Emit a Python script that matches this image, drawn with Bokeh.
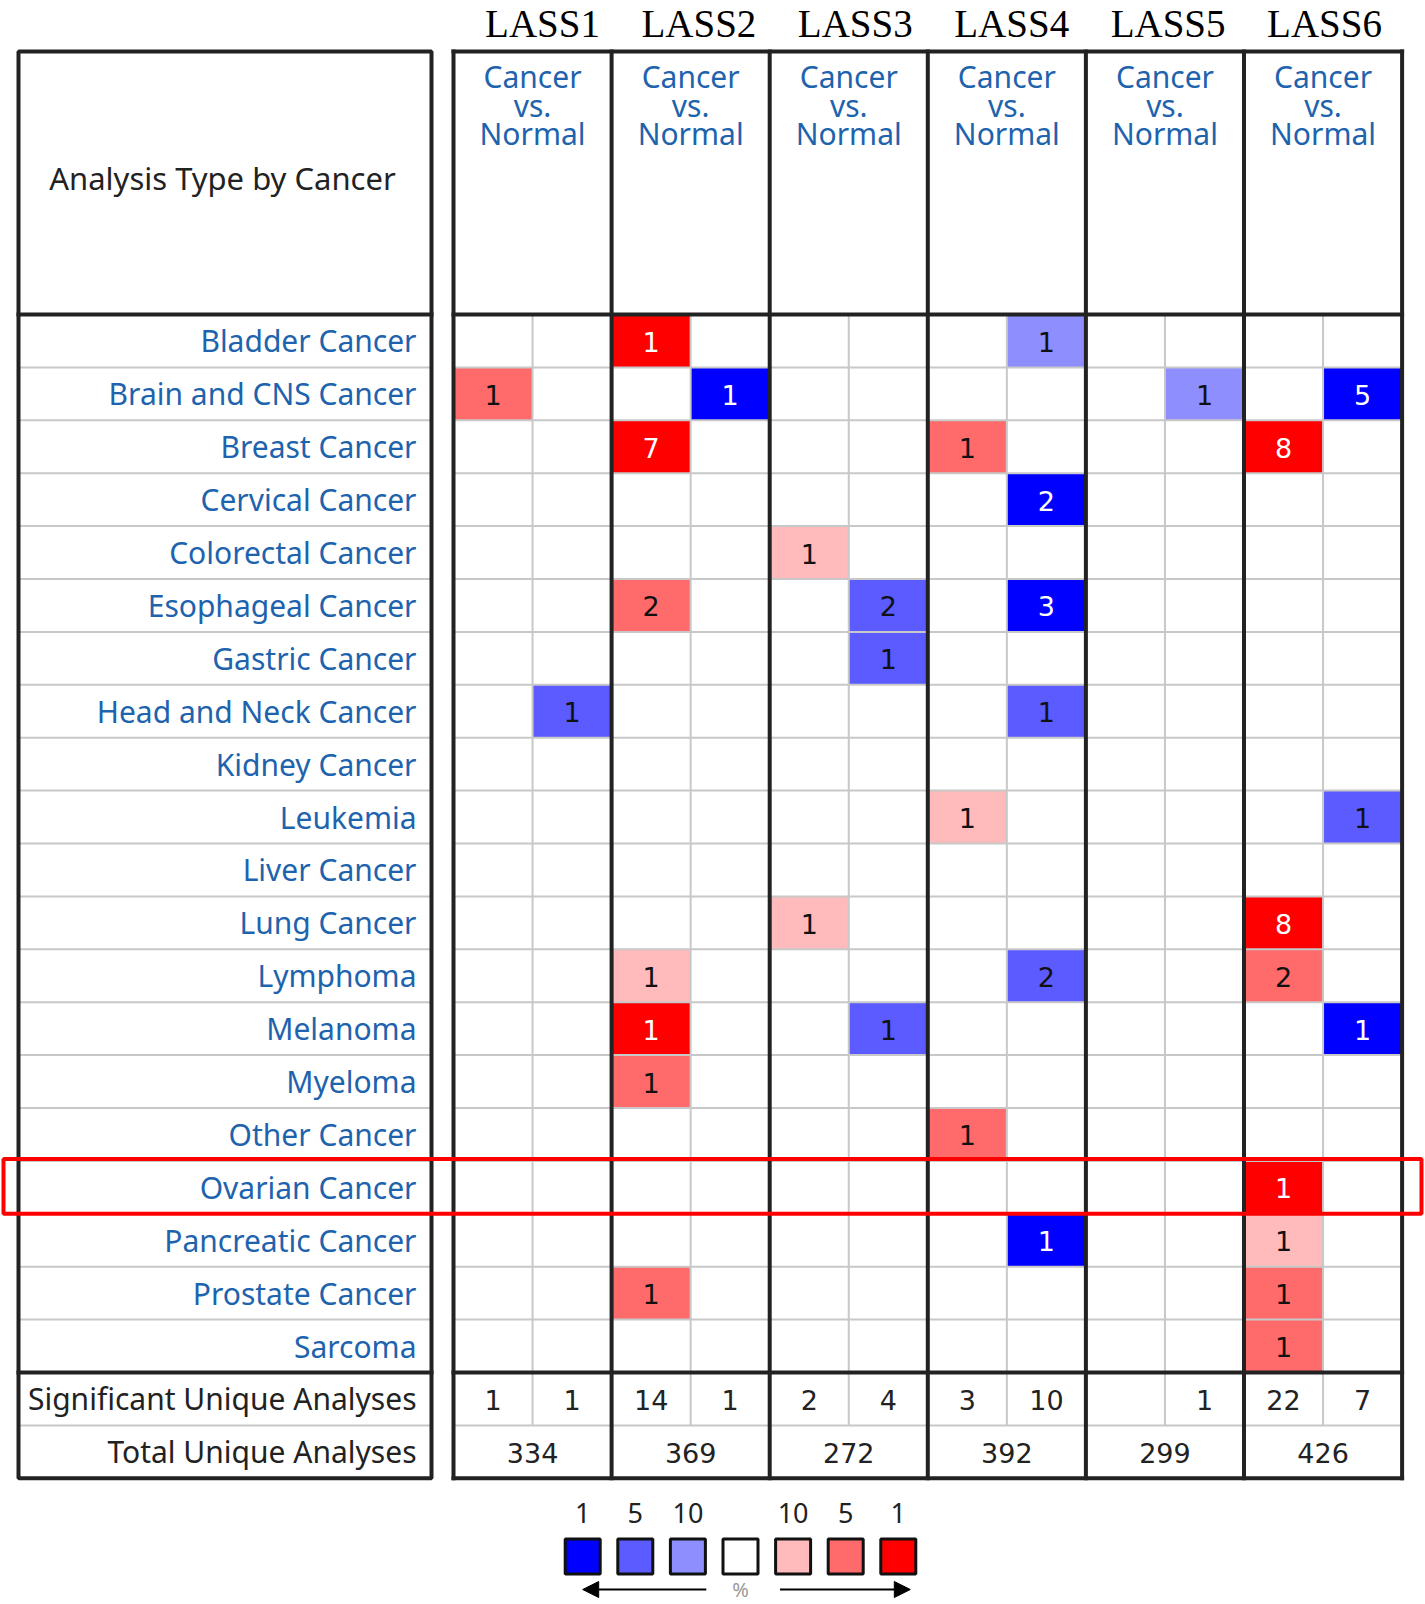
from bokeh.plotting import figure
from bokeh.models import Range1d, Arrow, NormalHead
from bokeh.core.properties import value
from bokeh.embed import file_html
from bokeh.resources import INLINE

# ---------------- data ----------------
genes = ["LASS1", "LASS2", "LASS3", "LASS4", "LASS5", "LASS6"]
cancers = ["Bladder Cancer", "Brain and CNS Cancer", "Breast Cancer", "Cervical Cancer",
           "Colorectal Cancer", "Esophageal Cancer", "Gastric Cancer", "Head and Neck Cancer",
           "Kidney Cancer", "Leukemia", "Liver Cancer", "Lung Cancer", "Lymphoma", "Melanoma",
           "Myeloma", "Other Cancer", "Ovarian Cancer", "Pancreatic Cancer", "Prostate Cancer",
           "Sarcoma"]
highlight = "Ovarian Cancer"
sub_header = ["Cancer", "vs.", "Normal"]
corner_label = "Analysis Type by Cancer"
summary_labels = ["Significant Unique Analyses", "Total Unique Analyses"]

# significant cells: cancer, gene, side (over/under), count, rank (1=top1%, 2=top5%, 3=top10%)
cell_cancer = ["Bladder Cancer", "Bladder Cancer",
               "Brain and CNS Cancer", "Brain and CNS Cancer", "Brain and CNS Cancer", "Brain and CNS Cancer",
               "Breast Cancer", "Breast Cancer", "Breast Cancer",
               "Cervical Cancer", "Colorectal Cancer",
               "Esophageal Cancer", "Esophageal Cancer", "Esophageal Cancer",
               "Gastric Cancer", "Head and Neck Cancer", "Head and Neck Cancer",
               "Leukemia", "Leukemia", "Lung Cancer", "Lung Cancer",
               "Lymphoma", "Lymphoma", "Lymphoma",
               "Melanoma", "Melanoma", "Melanoma",
               "Myeloma", "Other Cancer", "Ovarian Cancer",
               "Pancreatic Cancer", "Pancreatic Cancer",
               "Prostate Cancer", "Prostate Cancer", "Sarcoma"]
cell_gene = ["LASS2", "LASS4",
             "LASS1", "LASS2", "LASS5", "LASS6",
             "LASS2", "LASS4", "LASS6",
             "LASS4", "LASS3",
             "LASS2", "LASS3", "LASS4",
             "LASS3", "LASS1", "LASS4",
             "LASS4", "LASS6", "LASS3", "LASS6",
             "LASS2", "LASS4", "LASS6",
             "LASS2", "LASS3", "LASS6",
             "LASS2", "LASS4", "LASS6",
             "LASS4", "LASS6",
             "LASS2", "LASS6", "LASS6"]
cell_side = ["over", "under",
             "over", "under", "under", "under",
             "over", "over", "over",
             "under", "over",
             "over", "under", "under",
             "under", "under", "under",
             "over", "under", "over", "over",
             "over", "under", "over",
             "over", "under", "under",
             "over", "over", "over",
             "under", "over",
             "over", "over", "over"]
cell_count = [1, 1,
              1, 1, 1, 5,
              7, 1, 8,
              2, 1,
              2, 2, 3,
              1, 1, 1,
              1, 1, 1, 8,
              1, 2, 2,
              1, 1, 1,
              1, 1, 1,
              1, 1,
              1, 1, 1]
cell_rank = [1, 3,
             2, 1, 3, 1,
             1, 2, 1,
             1, 3,
             2, 2, 1,
             2, 2, 2,
             3, 2, 3, 1,
             3, 2, 2,
             1, 2, 1,
             2, 2, 1,
             1, 3,
             2, 2, 2]

sig_over = ["1", "14", "2", "3", "", "22"]
sig_under = ["1", "1", "4", "10", "1", "7"]
total_analyses = ["334", "369", "272", "392", "299", "426"]

legend_labels = ["1", "5", "10", "", "10", "5", "1"]

# ---------------- styles / layout ----------------
under_colors = {1: "#0000FF", 2: "#5B5BFF", 3: "#8E8EFF"}
over_colors = {1: "#FF0000", 2: "#FF6B6B", 3: "#FFBBBB"}
legend_colors = [under_colors[1], under_colors[2], under_colors[3], "#FFFFFF",
                 over_colors[3], over_colors[2], over_colors[1]]
BLUE_TXT = "#1E63AD"
DARK = "#222222"
GREY = "#C8C8C8"
SANS = "Noto Sans"
NUMF = "DejaVu Sans"
LBL_SIZE = "30px"

LX0, LX1 = 18, 431          # left panel
X0 = 453                    # grid left
GW = 158.1                  # group width
SUBW = GW / 2
TOP = 51
HEAD_BOT = 314
RH = 52.9
NR = len(cancers)
ROWS_BOT = HEAD_BOT + NR * RH
SIG_BOT = ROWS_BOT + RH
BOT = SIG_BOT + RH
XR = X0 + len(genes) * GW
LABEL_X = 416
TITLE_X0, TITLE_DX = 542, 156.4

W, H = 1425, 1604
p = figure(width=W, height=H, x_range=Range1d(0, W), y_range=Range1d(H, 0),
           output_backend="svg", toolbar_location=None, min_border=0,
           x_axis_location=None, y_axis_location=None)
p.grid.visible = False
p.outline_line_color = None
p.background_fill_color = "white"
p.border_fill_color = "white"

gi = {g: i for i, g in enumerate(genes)}
ri = {c: i for i, c in enumerate(cancers)}

# ---- cells ----
cl, cr, ct, cb, cc, tx, ty, tt, tcol = [], [], [], [], [], [], [], [], []
for c, g, s, n, r in zip(cell_cancer, cell_gene, cell_side, cell_count, cell_rank):
    k = 0 if s == "over" else 1
    left = X0 + gi[g] * GW + k * SUBW
    top = HEAD_BOT + ri[c] * RH
    cl.append(left); cr.append(left + SUBW); ct.append(top); cb.append(top + RH)
    cc.append(over_colors[r] if s == "over" else under_colors[r])
    tx.append(left + SUBW / 2); ty.append(top + RH / 2 + 1); tt.append(str(n))
    tcol.append("white" if r == 1 else "#111111")
p.quad(left=cl, right=cr, top=ct, bottom=cb, fill_color=cc, line_color=None)

# ---- thin grey grid ----
hx0, hx1, hy = [], [], []
for i in range(1, NR):
    y = HEAD_BOT + i * RH
    hx0 += [LX0, X0]; hx1 += [LX1, XR]; hy += [y, y]
hx0 += [LX0, X0]; hx1 += [LX1, XR]; hy += [SIG_BOT, SIG_BOT]
p.segment(x0=hx0, x1=hx1, y0=hy, y1=hy, line_color=GREY, line_width=2)
vx = [X0 + g * GW + SUBW for g in range(len(genes))]
p.segment(x0=vx, x1=vx, y0=[HEAD_BOT] * len(vx), y1=[SIG_BOT] * len(vx),
          line_color=GREY, line_width=2)

# ---- thick lines ----
p.quad(left=[LX0], right=[LX1], top=[TOP], bottom=[BOT], fill_color=None,
       line_color=DARK, line_width=4)
p.segment(x0=[LX0, LX0, X0, X0, X0, X0], x1=[LX1, LX1, XR, XR, XR, XR],
          y0=[HEAD_BOT, ROWS_BOT, TOP, HEAD_BOT, ROWS_BOT, BOT],
          y1=[HEAD_BOT, ROWS_BOT, TOP, HEAD_BOT, ROWS_BOT, BOT],
          line_color=DARK, line_width=4, line_cap="square")
gx = [X0 + g * GW for g in range(len(genes) + 1)]
p.segment(x0=gx, x1=gx, y0=[TOP] * len(gx), y1=[BOT] * len(gx),
          line_color=DARK, line_width=4, line_cap="square")

# ---- cell numbers ----
p.text(x=tx, y=ty, text=tt, text_color=tcol, text_font=value(NUMF), text_font_size="27px",
       text_align="center", text_baseline="middle")

# ---- gene titles ----
p.text(x=[TITLE_X0 + i * TITLE_DX for i in range(len(genes))], y=[1] * len(genes),
       text=genes, text_font=value("Liberation Serif"), text_font_size="39px",
       text_color="black", text_align="center", text_baseline="top")

# ---- sub headers ----
hx, hy2, ht = [], [], []
for i in range(len(genes)):
    for j, w in enumerate(sub_header):
        hx.append(X0 + (i + 0.5) * GW); hy2.append(76 + j * 28.6); ht.append(w)
p.text(x=hx, y=hy2, text=ht, text_font=value(SANS), text_font_size=LBL_SIZE,
       text_color=BLUE_TXT, text_align="center", text_baseline="middle")

p.text(x=[222], y=[177], text=[corner_label], text_font=value(SANS),
       text_font_size="31px", text_color=DARK, text_align="center", text_baseline="middle")

# ---- row labels ----
p.text(x=[LABEL_X] * NR, y=[HEAD_BOT + (i + 0.5) * RH for i in range(NR)], text=cancers,
       text_font=value(SANS), text_font_size=LBL_SIZE, text_color=BLUE_TXT,
       text_align="right", text_baseline="middle")
p.text(x=[LABEL_X] * 2, y=[ROWS_BOT + RH / 2, SIG_BOT + RH / 2], text=summary_labels,
       text_font=value(SANS), text_font_size=LBL_SIZE, text_color=DARK,
       text_align="right", text_baseline="middle")

# ---- summary numbers ----
sx, sy, st = [], [], []
for i in range(len(genes)):
    sx += [X0 + i * GW + SUBW / 2, X0 + i * GW + 1.5 * SUBW]
    sy += [ROWS_BOT + RH / 2 + 1] * 2
    st += [sig_over[i], sig_under[i]]
    sx.append(X0 + (i + 0.5) * GW); sy.append(SIG_BOT + RH / 2 + 1); st.append(total_analyses[i])
p.text(x=sx, y=sy, text=st, text_font=value(NUMF), text_font_size="27px", text_color=DARK,
       text_align="center", text_baseline="middle")

# ---- highlight box ----
hi = ri[highlight]
p.quad(left=[3], right=[1421], top=[HEAD_BOT + hi * RH - 2], bottom=[HEAD_BOT + (hi + 1) * RH],
       fill_color=None, line_color="#FF0000", line_width=4)

# ---- legend ----
LC, LS, LSZ, LY = 740, 52.6, 35, 1556
lxs = [LC + (i - 3) * LS for i in range(len(legend_colors))]
p.quad(left=[x - LSZ / 2 for x in lxs], right=[x + LSZ / 2 for x in lxs],
       top=[LY - LSZ / 2] * len(lxs), bottom=[LY + LSZ / 2] * len(lxs),
       fill_color=legend_colors, line_color="#111111", line_width=3)
p.text(x=lxs, y=[1512] * len(lxs), text=legend_labels, text_font=value(SANS),
       text_font_size="27px", text_color=DARK, text_align="center", text_baseline="middle")
AY = 1589
p.add_layout(Arrow(end=NormalHead(size=16, fill_color="black", line_color="black"),
                   x_start=LC - 0.65 * LS, y_start=AY, x_end=lxs[0], y_end=AY,
                   line_width=2, line_color="black"))
p.add_layout(Arrow(end=NormalHead(size=16, fill_color="black", line_color="black"),
                   x_start=LC + 0.75 * LS, y_start=AY, x_end=lxs[-1] + 12, y_end=AY,
                   line_width=2, line_color="black"))
p.text(x=[LC], y=[1589], text=["%"], text_font=value(SANS), text_font_size="20px",
       text_color="#999999", text_align="center", text_baseline="middle")

open("out.html", "w").write(file_html(p, INLINE))
